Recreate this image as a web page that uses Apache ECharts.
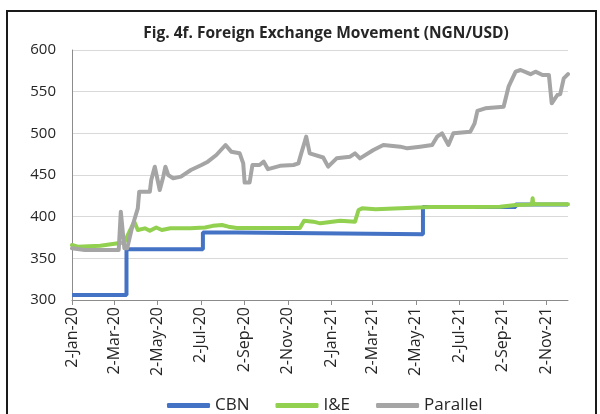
<!DOCTYPE html>
<html>
<head>
<meta charset="utf-8">
<script src="https://cdn.jsdelivr.net/npm/echarts@6/dist/echarts.min.js"></script>
<style>
  html, body { margin: 0; padding: 0; background: #fff; }
  #chart { width: 600px; height: 414px; }
</style>
</head>
<body>
<div id="chart"></div>
<script>
// x axis ticks (every 2 months)
const tickDates = ['2020-01-02', '2020-03-02', '2020-05-02', '2020-07-02', '2020-09-02', '2020-11-02',
  '2021-01-02', '2021-03-02', '2021-05-02', '2021-07-02', '2021-09-02', '2021-11-02'];
const tickLabels = ['2-Jan-20', '2-Mar-20', '2-May-20', '2-Jul-20', '2-Sep-20', '2-Nov-20',
  '2-Jan-21', '2-Mar-21', '2-May-21', '2-Jul-21', '2-Sep-21', '2-Nov-21'];

// CBN official rate (step changes)
const cbnDates = ['2020-01-02', '2020-03-19', '2020-07-05', '2020-08-22', '2021-05-12', '2021-09-20', '2021-12-03'];
const cbnValues = [306, 361, 381, 379, 411.5, 414.5, 415];

// I&E window
const ieDates = ['2020-01-02', '2020-01-10', '2020-02-11', '2020-03-07', '2020-03-16', '2020-03-22', '2020-03-30',
  '2020-04-04', '2020-04-14', '2020-04-21', '2020-04-30', '2020-05-08', '2020-05-20', '2020-06-17', '2020-07-08',
  '2020-07-19', '2020-08-01', '2020-08-10', '2020-08-22', '2020-11-19', '2020-11-25', '2020-12-08', '2020-12-18',
  '2021-01-15', '2021-02-05', '2021-02-10', '2021-02-15', '2021-03-06', '2021-04-10', '2021-05-23', '2021-07-18',
  '2021-08-29', '2021-09-20', '2021-10-13', '2021-10-14', '2021-10-15', '2021-12-03'];
const ieValues = [366, 364, 365, 368, 369, 380, 394,
  384, 386, 383, 387, 384, 386, 386, 387,
  389, 390, 388, 386.5, 386.5, 395, 394, 392,
  395, 394, 408, 410, 409, 410, 411.5, 411.5,
  412, 414, 414.5, 422, 415, 415];

// Parallel market
const parDates = ['2020-01-02', '2020-01-20', '2020-03-08', '2020-03-11', '2020-03-16', '2020-03-20', '2020-03-26',
  '2020-03-30', '2020-04-04', '2020-04-06', '2020-04-21', '2020-04-23', '2020-04-28', '2020-05-02', '2020-05-05',
  '2020-05-10', '2020-05-13', '2020-05-17', '2020-05-24', '2020-06-04', '2020-06-18', '2020-07-03', '2020-07-12',
  '2020-07-24', '2020-08-06', '2020-08-14', '2020-08-26', '2020-08-31', '2020-09-02', '2020-09-09', '2020-09-13',
  '2020-09-23', '2020-09-29', '2020-10-05', '2020-10-22', '2020-11-10', '2020-11-17', '2020-11-21', '2020-11-26',
  '2020-11-28', '2020-12-03', '2020-12-22', '2020-12-29', '2021-01-10', '2021-01-29', '2021-02-05', '2021-02-12',
  '2021-03-03', '2021-03-17', '2021-04-10', '2021-04-20', '2021-05-08', '2021-05-25', '2021-06-01', '2021-06-08',
  '2021-06-17', '2021-06-24', '2021-07-18', '2021-07-24', '2021-07-28', '2021-08-08', '2021-09-03', '2021-09-10',
  '2021-09-20', '2021-09-27', '2021-10-11', '2021-10-18', '2021-10-28', '2021-11-06', '2021-11-10', '2021-11-18',
  '2021-11-22', '2021-11-27', '2021-12-03'];
const parValues = [362, 360, 360, 406, 362, 362, 384,
  396, 410, 430, 430, 444, 460, 444, 432,
  448, 460, 450, 446, 448, 456, 462, 466,
  474, 486, 478, 476, 464, 441, 441, 462,
  462, 466, 457, 461, 462, 464, 476, 490,
  496, 476, 471, 460, 470, 472, 476, 470,
  480, 486, 484, 482, 484, 486, 496, 500,
  486, 500, 502, 512, 527, 530, 532, 556,
  574, 576, 571, 574, 570, 570, 536, 546,
  547, 566, 571];

function toTime(s) {
  const p = s.split('-');
  return Date.UTC(+p[0], +p[1] - 1, +p[2]);
}
const tickTimes = tickDates.map(toTime);
function pairs(dates, values) {
  return dates.map((d, i) => [toTime(d), values[i]]);
}

const font = '"Open Sans", "Noto Sans", sans-serif';
const chart = echarts.init(document.getElementById('chart'));
const option = {
  animation: false,
  backgroundColor: '#fff',
  title: {
    text: 'Fig. 4f. Foreign Exchange Movement (NGN/USD)',
    left: 321,
    textAlign: 'center',
    top: 21,
    textStyle: { fontFamily: font, fontSize: 15.5, fontWeight: 'bold', color: '#262626' }
  },
  graphic: [{
    type: 'rect',
    shape: { x: 7, y: 11, width: 589, height: 420 },
    style: { fill: 'none', stroke: '#1a1a1a', lineWidth: 2 },
    z: -1
  }],
  grid: { left: 72, right: 32, top: 50, bottom: 114 },
  legend: {
    left: 162,
    top: 392,
    itemWidth: 43,
    itemHeight: 5,
    itemGap: 26,
    icon: 'roundRect',
    textStyle: { fontFamily: font, fontSize: 17, color: '#262626' },
    data: ['CBN', 'I&E', 'Parallel']
  },
  xAxis: {
    type: 'value',
    min: toTime('2020-01-02'),
    max: toTime('2021-12-03'),
    splitLine: { show: false },
    axisLine: { lineStyle: { color: '#8c8c8c', width: 1 } },
    axisTick: { show: true, length: 5, customValues: tickTimes, lineStyle: { color: '#8c8c8c' } },
    axisLabel: {
      customValues: tickTimes,
      rotate: 90,
      margin: 7,
      fontFamily: font,
      fontSize: 16,
      color: '#262626',
      formatter: function (v) {
        const i = tickTimes.indexOf(v);
        return i >= 0 ? tickLabels[i] : '';
      }
    }
  },
  yAxis: {
    type: 'value',
    min: 300,
    max: 600,
    interval: 50,
    axisLine: { show: true, lineStyle: { color: '#8c8c8c' } },
    axisTick: { show: false },
    splitLine: { lineStyle: { color: '#d9d9d9', width: 1 } },
    axisLabel: { fontFamily: font, fontSize: 15, color: '#262626', margin: 16 }
  },
  series: [
    {
      name: 'CBN', type: 'line', step: 'end', showSymbol: false,
      color: '#4472C4', lineStyle: { width: 4, color: '#4472C4' },
      data: pairs(cbnDates, cbnValues)
    },
    {
      name: 'I&E', type: 'line', showSymbol: false,
      color: '#92D050', lineStyle: { width: 4, color: '#92D050', cap: 'round', join: 'round' },
      data: pairs(ieDates, ieValues)
    },
    {
      name: 'Parallel', type: 'line', showSymbol: false,
      color: '#A5A5A5', lineStyle: { width: 4, color: '#A5A5A5', cap: 'round', join: 'round' },
      data: pairs(parDates, parValues)
    }
  ]
};
chart.setOption(option);
</script>
</body>
</html>
